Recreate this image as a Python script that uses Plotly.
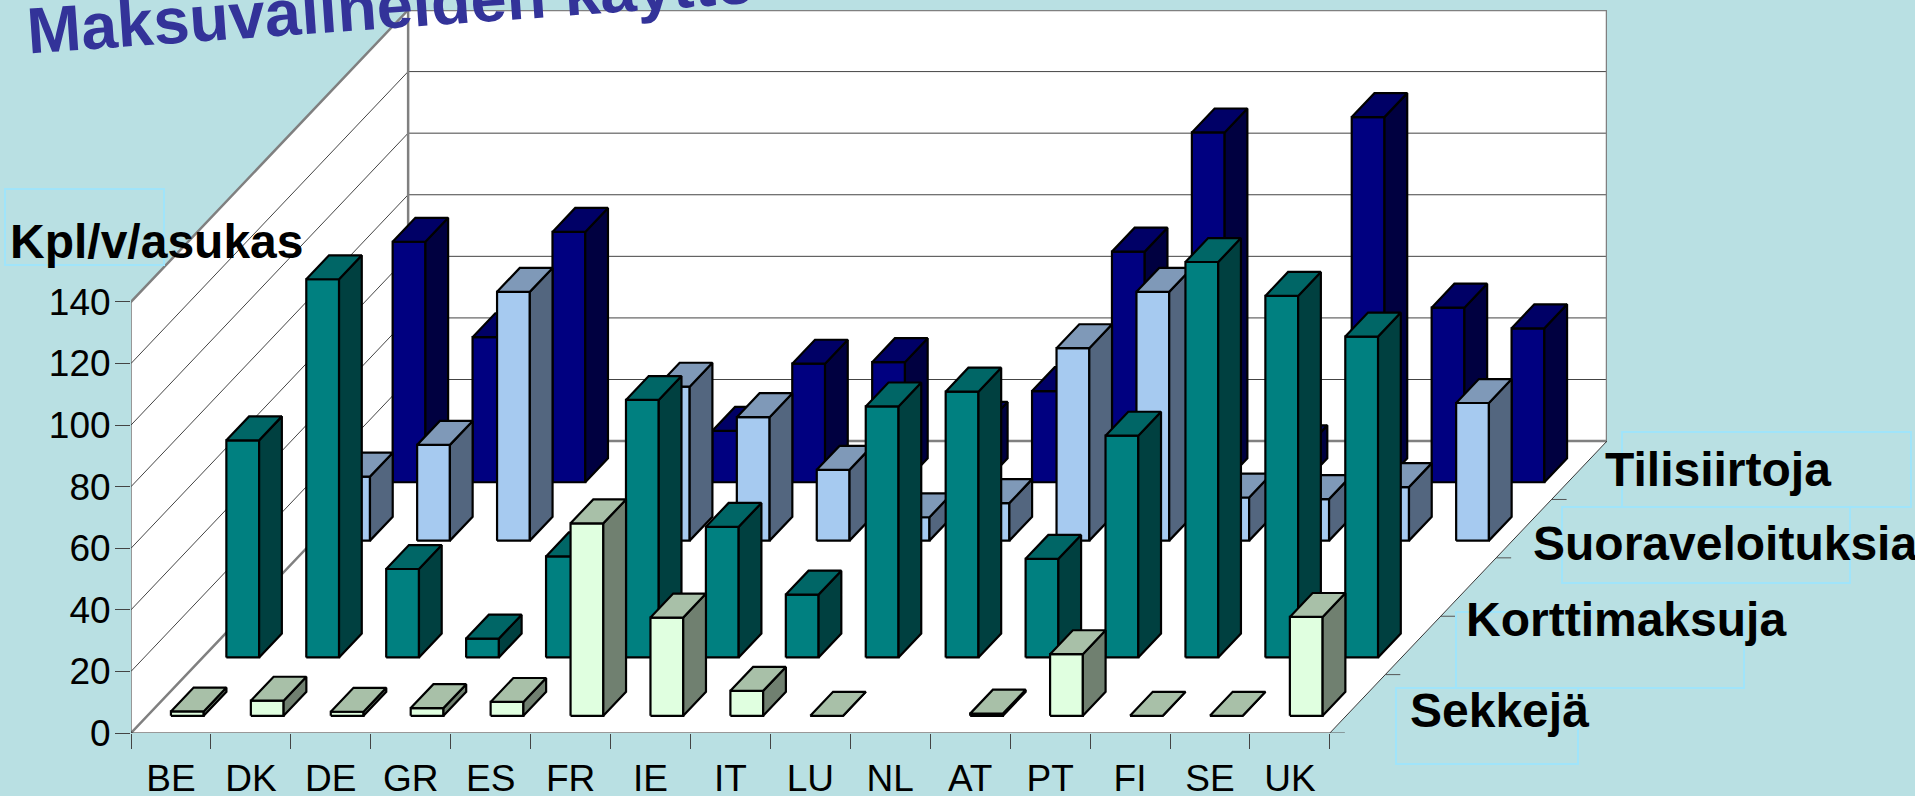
import plotly.graph_objects as go

# ---- data ----
categories = ["BE", "DK", "DE", "GR", "ES", "FR", "IE", "IT", "LU", "NL", "AT", "PT", "FI", "SE", "UK"]
sekkeja = [1.4, 4.9, 1.3, 2.5, 4.5, 62.5, 31.9, 8.1, 0, None, 0.7, 20, 0, 0, 32.1]
korttimaksuja = [70.5, 122.8, 28.7, 6.1, 32.8, 83.6, 42.4, 20.4, 81.5, 86.3, 32, 72, 128.4, 117.4, 104.2]
suoraveloituksia = [20.8, 31.1, 80.8, 3, 50, 40.1, 23, 7.6, 12.2, 62.5, 80.8, 14, 13.5, 17.4, 44.7]
tilisiirtoja = [78.1, 47.1, 81.3, 10, 16.7, 38.5, 39, 18.3, 29.6, 74.9, 113.6, 10.7, 118.6, 56.7, 50]
value_ticks = [0, 20, 40, 60, 80, 100, 120, 140]
title_text = "Maksuvälineiden käyttö"
value_title = "Kpl/v/asukas"

# ---- style / projection ----
BG = "#B9E0E3"
FONT = "Liberation Sans"
ROWS_TOTAL = 5
DX = 0.6935      # x-shift per depth row, category units
DY = 18.96       # y-shift per depth row, value units
GAP, BAR = 0.295, 0.41
VMAX = 140
N = len(categories)
L, R, T, B = 131, 308, 10, 63
W, H = 1915, 796
X_MAX = N + ROWS_TOTAL * DX
Y_MAX = VMAX + ROWS_TOTAL * DY

series = [  # back to front: values, depth row, front, top, side
    (tilisiirtoja, 4, "#000080", "#000066", "#000040"),
    (suoraveloituksia, 3, "#A6CAF0", "#7F99B8", "#53667F"),
    (korttimaksuja, 1, "#008080", "#006666", "#004040"),
    (sekkeja, 0, "#E0FFE0", "#A8C0A8", "#708070"),
]


def proj(x, d, v):
    return x + d * DX, v + d * DY


def poly_trace(polys, fill, line="black", width=2.2):
    xs, ys = [], []
    for p in polys:
        for q in p + [p[0]]:
            a, b = proj(*q)
            xs.append(a)
            ys.append(b)
        xs.append(None)
        ys.append(None)
    return go.Scatter(x=xs, y=ys, mode="lines", fill="toself", fillcolor=fill,
                      line=dict(color=line, width=width), hoverinfo="skip",
                      showlegend=False, cliponaxis=False)


def line_trace(points, color, width):
    xs, ys = [], []
    for seg in points:
        for q in seg:
            a, b = proj(*q)
            xs.append(a)
            ys.append(b)
        xs.append(None)
        ys.append(None)
    return go.Scatter(x=xs, y=ys, mode="lines", line=dict(color=color, width=width),
                      hoverinfo="skip", showlegend=False, cliponaxis=False)


D = ROWS_TOTAL
traces = [
    poly_trace([[(0, 0, 0), (N, 0, 0), (N, D, 0), (0, D, 0)],
                [(0, 0, 0), (0, D, 0), (0, D, VMAX), (0, 0, VMAX)],
                [(0, D, 0), (N, D, 0), (N, D, VMAX), (0, D, VMAX)]], "white", "white", 0.5),
    line_trace([[(0, 0, v), (0, D, v), (N, D, v)] for v in value_ticks[1:-1]], "#444444", 1),
    line_trace([[(0, 0, 0), (0, D, 0), (N, D, 0)],
                [(0, 0, VMAX), (0, D, VMAX), (N, D, VMAX)],
                [(0, D, 0), (0, D, VMAX)],
                [(N, D, 0), (N, D, VMAX)]], "#808080", 2.5),
    line_trace([[(0, 0, 0), (0, 0, VMAX)], [(0, 0, 0), (N, 0, 0), (N, D, 0)]], "#333333", 1),
    line_trace([[(N, r, 0), (N + 15 / 79.9, r, 0)] for r in range(D + 1)], "#555555", 1),
]

for values, row, c_front, c_top, c_side in series:
    fronts, tops, sides = [], [], []
    d0, d1 = row + GAP, row + GAP + BAR
    for i, v in enumerate(values):
        if v is None:
            continue
        x0, x1 = i + GAP, i + GAP + BAR
        fronts.append([(x0, d0, 0), (x1, d0, 0), (x1, d0, v), (x0, d0, v)])
        tops.append([(x0, d0, v), (x1, d0, v), (x1, d1, v), (x0, d1, v)])
        sides.append([(x1, d0, 0), (x1, d1, 0), (x1, d1, v), (x1, d0, v)])
    traces += [poly_trace(fronts, c_front), poly_trace(sides, c_side), poly_trace(tops, c_top)]

fig = go.Figure(traces)


def px(x):
    return (x - L) / (W - L - R)


def py(y):
    return (H - B - y) / (H - T - B)


def label(text, x, y, size=48, bold=True, color="black", angle=0, anchor="left"):
    return dict(text=f"<b>{text}</b>" if bold else text, xref="paper", yref="paper",
                x=px(x), y=py(y), xanchor=anchor, yanchor="middle", showarrow=False,
                textangle=angle, font=dict(family=FONT, size=size, color=color))


annotations = [
    label(title_text, 391, 5, size=65, color="#333399", angle=-4, anchor="center"),
    label(value_title, 8, 242),
    label("Tilisiirtoja", 1603, 470),
    label("Suoraveloituksia", 1531, 543),
    label("Korttimaksuja", 1464, 619),
    label("Sekkejä", 1408, 710),
]

boxes = [(5, 189, 164, 265), (1622, 432, 1911, 507), (1562, 507, 1850, 583),
         (1456, 612, 1744, 688), (1396, 688, 1578, 764)]
shapes = [dict(type="rect", xref="paper", yref="paper", x0=px(a), x1=px(c), y0=py(b), y1=py(d),
               line=dict(color="#A0E4FA", width=2), layer="above") for a, b, c, d in boxes]

fig.update_layout(
    width=W, height=H, autosize=False,
    margin=dict(l=L, r=R, t=T, b=B, pad=0, autoexpand=False),
    paper_bgcolor=BG, plot_bgcolor="rgba(0,0,0,0)",
    showlegend=False, annotations=annotations, shapes=shapes,
    hovermode=False,
    xaxis=dict(range=[0, X_MAX], showgrid=False, zeroline=False, showline=False, automargin=False,
               tickmode="array", tickvals=[i + 0.5 for i in range(N)], ticktext=categories,
               ticks="", ticklabelstandoff=20,
               tickfont=dict(family=FONT, size=37, color="black"),
               minor=dict(tickmode="array", tickvals=list(range(N + 1)), ticks="outside",
                          ticklen=15, tickcolor="#444444", tickwidth=1, showgrid=False)),
    yaxis=dict(range=[0, Y_MAX], showgrid=False, zeroline=False, showline=False, automargin=False,
               tickmode="array", tickvals=value_ticks, ticks="outside", ticklen=15,
               tickcolor="#444444", tickwidth=1, ticklabelstandoff=-3,
               tickfont=dict(family=FONT, size=37, color="black")),
)

fig.write_html("out.html", config={"displayModeBar": False},
               post_script="document.body.style.margin='0';document.documentElement.style.overflow='hidden';")
